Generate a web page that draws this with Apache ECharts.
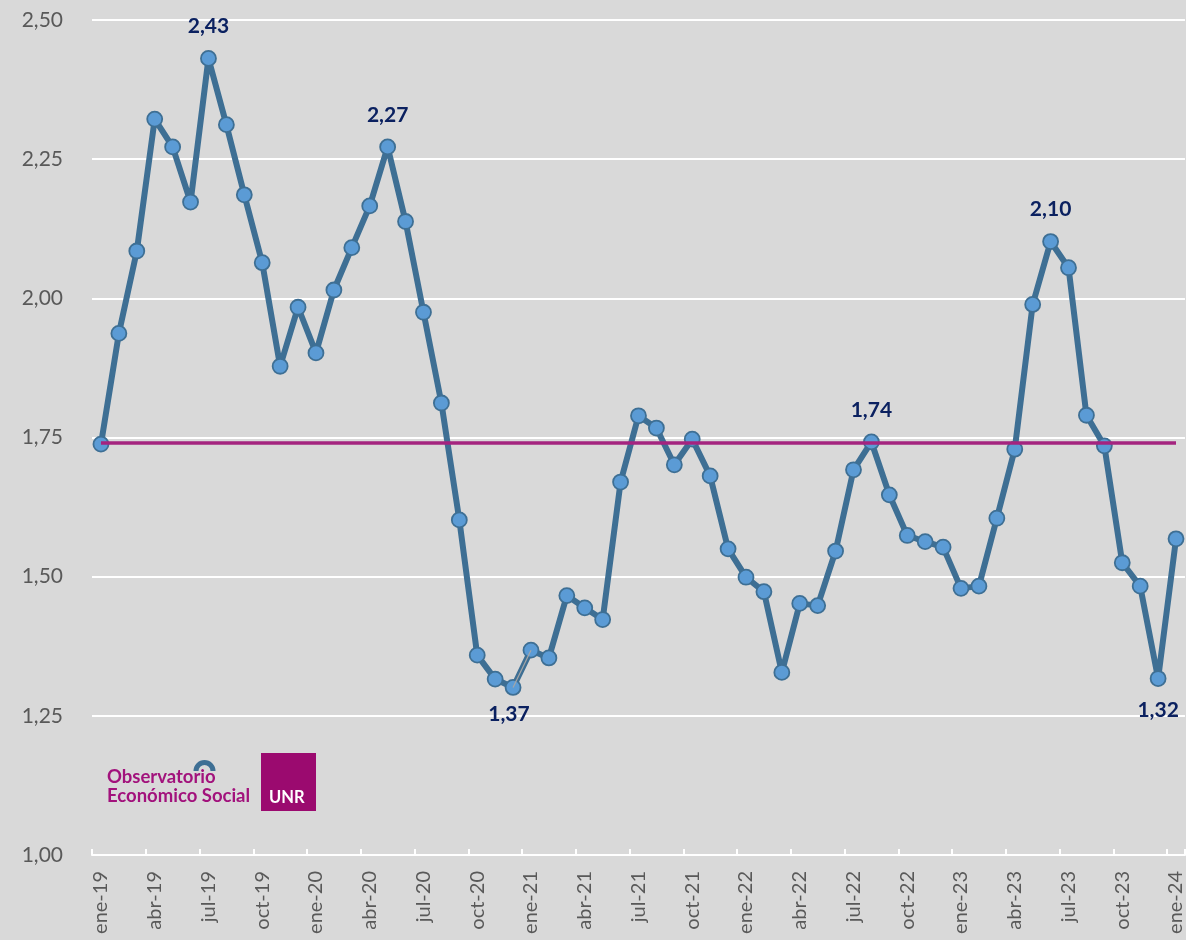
<!DOCTYPE html>
<html>
<head>
<meta charset="utf-8">
<script src="https://cdn.jsdelivr.net/npm/echarts@6/dist/echarts.min.js"></script>
<style>
html,body{margin:0;padding:0;background:#d9d9d9;}
#chart{width:1186px;height:940px;}
</style>
</head>
<body>
<div id="chart"></div>
<script>
const categories = [
  'ene-19','feb-19','mar-19','abr-19','may-19','jun-19','jul-19','ago-19','sep-19','oct-19','nov-19','dic-19',
  'ene-20','feb-20','mar-20','abr-20','may-20','jun-20','jul-20','ago-20','sep-20','oct-20','nov-20','dic-20',
  'ene-21','feb-21','mar-21','abr-21','may-21','jun-21','jul-21','ago-21','sep-21','oct-21','nov-21','dic-21',
  'ene-22','feb-22','mar-22','abr-22','may-22','jun-22','jul-22','ago-22','sep-22','oct-22','nov-22','dic-22',
  'ene-23','feb-23','mar-23','abr-23','may-23','jun-23','jul-23','ago-23','sep-23','oct-23','nov-23','dic-23',
  'ene-24'
];
const values = [
  1.738, 1.937, 2.085, 2.322, 2.272, 2.173, 2.431, 2.312, 2.186, 2.064, 1.878, 1.984,
  1.902, 2.015, 2.091, 2.166, 2.272, 2.138, 1.975, 1.812, 1.602, 1.359, 1.316, 1.301,
  1.368, 1.354, 1.466, 1.444, 1.423, 1.670, 1.789, 1.767, 1.701, 1.747, 1.681, 1.550,
  1.499, 1.473, 1.328, 1.452, 1.448, 1.546, 1.692, 1.742, 1.647, 1.574, 1.563, 1.553,
  1.479, 1.483, 1.605, 1.729, 1.989, 2.102, 2.055, 1.790, 1.735, 1.525, 1.483, 1.317,
  1.568
];
const averageValue = 1.74;
const labelsAbove = ['jul-19','may-20','ago-22','jun-23'];
const labelsBelow = ['dic-23'];
const labelMoved = 'ene-21';      // label placed under the previous point with a leader line
const leaderFrom = 'dic-20';
const yTicks = [1.00, 1.25, 1.50, 1.75, 2.00, 2.25, 2.50];

const fmt = v => v.toFixed(2).replace('.', ',');
const FONT = 'Lato';
const NAVY = '#0b2160';
const movedIndex = categories.indexOf(labelMoved);

const lineData = values.map((v, i) => {
  const c = categories[i];
  const base = { value: v };
  const lab = { show: true, formatter: p => fmt(p.value), color: NAVY, fontWeight: 'bold', fontSize: 21, fontFamily: FONT };
  if (labelsAbove.includes(c)) base.label = Object.assign({ position: 'top', distance: 13 }, lab);
  else if (labelsBelow.includes(c)) base.label = Object.assign({ position: 'bottom', distance: 13 }, lab);
  else if (c === labelMoved) base.label = Object.assign({ position: 'bottom', distance: 13 }, lab);
  return base;
});

const chart = echarts.init(document.getElementById('chart'), null, { renderer: 'canvas' });
const option = {
  backgroundColor: '#d9d9d9',
  animation: false,
  textStyle: { fontFamily: FONT },
  grid: { left: 92, top: 20, width: 1095.6, height: 835, containLabel: false },
  xAxis: {
    type: 'category',
    data: categories,
    boundaryGap: true,
    axisLine: { show: true, lineStyle: { color: '#ffffff', width: 2 } },
    axisTick: { show: true, inside: true, length: 6, interval: 2, lineStyle: { color: '#ffffff', width: 2 } },
    axisLabel: { interval: 2, rotate: 90, margin: 16, color: '#595959', fontSize: 20, fontFamily: FONT },
    splitLine: { show: false }
  },
  yAxis: {
    type: 'value',
    min: yTicks[0], max: yTicks[yTicks.length - 1], interval: 0.25,
    axisLine: { show: false },
    axisTick: { show: false },
    axisLabel: { margin: 29, color: '#595959', fontSize: 21, fontFamily: FONT, formatter: v => fmt(v) },
    splitLine: { show: true, lineStyle: { color: '#ffffff', width: 2 } }
  },
  series: [
    {
      type: 'line',
      data: lineData,
      z: 3,
      symbol: 'circle',
      symbolSize: 15,
      showAllSymbol: true,
      labelLayout: p => (p.dataIndex === movedIndex ? { dx: -22, dy: 32, hideOverlap: false } : { hideOverlap: false }),
      lineStyle: { color: '#3e6f94', width: 6 },
      itemStyle: { color: '#5b9bd5', borderColor: '#3e6f94', borderWidth: 1.8 },
      markLine: {
        silent: true,
        symbol: ['none', 'none'],
        label: { show: false },
        lineStyle: { color: '#a6a6a6', width: 1.2, type: 'solid' },
        data: [[
          { coord: [leaderFrom, values[categories.indexOf(leaderFrom)]] },
          { coord: [labelMoved, values[movedIndex]] }
        ]]
      }
    },
    {
      type: 'line',
      data: categories.map(() => averageValue),
      z: 4,
      symbol: 'none',
      lineStyle: { color: '#a4247f', width: 3.5 }
    }
  ],
  graphic: [
    { type: 'sector', z: 10, shape: { cx: 204.5, cy: 771, r0: 6, r: 11, startAngle: Math.PI, endAngle: 2 * Math.PI, clockwise: true }, style: { fill: '#3e6f94' } },
    { type: 'text', z: 11, left: 107, top: 768, style: { text: 'Observatorio', fill: '#a2127c', font: 'bold 18.5px Lato' } },
    { type: 'text', z: 11, left: 107, top: 787, style: { text: 'Económico Social', fill: '#a2127c', font: 'bold 18.5px Lato' } },
    { type: 'rect', z: 10, shape: { x: 261, y: 753, width: 55, height: 58 }, style: { fill: '#9b0a6f' } },
    { type: 'text', z: 11, left: 269, top: 789, style: { text: 'UNR', fill: '#ffffff', font: 'bold 16.5px Lato' } }
  ]
};
chart.setOption(option);
</script>
</body>
</html>
